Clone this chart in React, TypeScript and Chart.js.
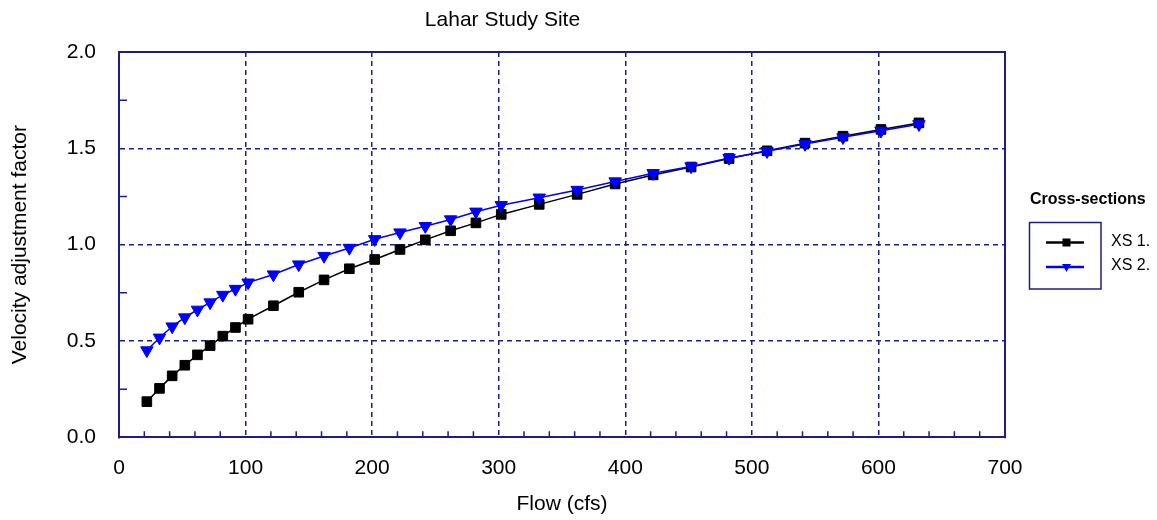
import { useEffect, useRef } from 'react';
import { Chart, registerables } from 'chart.js';

Chart.register(...registerables);

const FONT = "'Liberation Sans', Arial, sans-serif";
const NAVY = '#1c1c8e';

const CHART_TITLE = 'Lahar Study Site';
const X_TITLE = 'Flow (cfs)';
const Y_TITLE = 'Velocity adjustment factor';
const LEGEND_TITLE = 'Cross-sections';
const SERIES_NAMES = ['XS 1.', 'XS 2.'];
const SERIES_COLORS = ['#000000', '#0000ff'];

// Flow values (cfs) shared by both cross-sections
const FLOW = [
  22, 32, 42, 52, 62, 72, 82, 92, 102,
  122, 142, 162, 182, 202, 222, 242, 262, 282, 302,
  332, 362, 392, 422, 452, 482, 512, 542, 572, 602, 632,
];

// Velocity adjustment factor, cross-section 1
const XS1_FACTOR = [
  0.185, 0.254, 0.319, 0.374, 0.428, 0.476, 0.525, 0.570, 0.613,
  0.683, 0.753, 0.817, 0.875, 0.923, 0.975, 1.025, 1.072, 1.113, 1.157,
  1.209, 1.261, 1.315, 1.362, 1.403, 1.447, 1.487, 1.527, 1.563, 1.598, 1.632,
];

// Velocity adjustment factor, cross-section 2
const XS2_FACTOR = [
  0.451, 0.517, 0.575, 0.622, 0.662, 0.700, 0.739, 0.770, 0.803,
  0.845, 0.897, 0.941, 0.983, 1.028, 1.063, 1.096, 1.131, 1.171, 1.205,
  1.244, 1.284, 1.328, 1.371, 1.406, 1.450, 1.485, 1.522, 1.557, 1.591, 1.625,
];

const X_MIN = 0;
const X_MAX = 700;
const X_STEP = 100;
const X_MINOR = 20;
const Y_MIN = 0;
const Y_MAX = 2;
const Y_STEP = 0.5;
const Y_MINOR = 0.25;

// Top/right frame and the small inward minor ticks
const framePlugin = {
  id: 'frame',
  beforeDatasetsDraw(chart: any) {
    const { ctx, chartArea: a, scales } = chart;
    const xs = scales.x;
    const ys = scales.y;
    ctx.save();
    ctx.strokeStyle = NAVY;
    ctx.lineWidth = 1.5;
    ctx.beginPath();
    const xPerMajor = Math.round(X_STEP / X_MINOR);
    const xCount = Math.round((X_MAX - X_MIN) / X_MINOR);
    for (let i = 1; i < xCount; i++) {
      if (i % xPerMajor === 0) continue;
      const px = xs.getPixelForValue(X_MIN + i * X_MINOR);
      ctx.moveTo(px, a.bottom);
      ctx.lineTo(px, a.bottom - 6);
    }
    const yPerMajor = Math.round(Y_STEP / Y_MINOR);
    const yCount = Math.round((Y_MAX - Y_MIN) / Y_MINOR);
    for (let i = 1; i < yCount; i++) {
      if (i % yPerMajor === 0) continue;
      const py = ys.getPixelForValue(Y_MIN + i * Y_MINOR);
      ctx.moveTo(a.left, py);
      ctx.lineTo(a.left + 8, py);
    }
    ctx.stroke();
    ctx.lineWidth = 2;
    ctx.beginPath();
    ctx.moveTo(a.left - 1, a.top);
    ctx.lineTo(a.right, a.top);
    ctx.lineTo(a.right, a.bottom + 1);
    ctx.stroke();
    ctx.restore();
  },
};

// Boxed legend on the right with its heading above
const legendPlugin = {
  id: 'boxLegend',
  afterDraw(chart: any) {
    const { ctx } = chart;
    const datasets = chart.data.datasets;
    ctx.save();
    ctx.fillStyle = '#000';
    ctx.font = `bold 16px ${FONT}`;
    ctx.textAlign = 'left';
    ctx.textBaseline = 'middle';
    ctx.fillText(LEGEND_TITLE, 1030, 200);

    ctx.strokeStyle = NAVY;
    ctx.lineWidth = 1.5;
    ctx.strokeRect(1029.5, 222.5, 71.5, 66.5);

    const rows = [242.5, 267];
    datasets.forEach((ds: any, i: number) => {
      const y = rows[i];
      ctx.strokeStyle = ds.borderColor;
      ctx.fillStyle = ds.borderColor;
      ctx.lineWidth = 2.5;
      ctx.beginPath();
      ctx.moveTo(1046, y);
      ctx.lineTo(1084, y);
      ctx.stroke();
      const cx = 1066.5;
      if (ds.pointStyle === 'rect') {
        ctx.fillRect(cx - 4, y - 4, 8, 8);
      } else {
        ctx.beginPath();
        ctx.moveTo(cx - 4.5, y - 3);
        ctx.lineTo(cx + 4.5, y - 3);
        ctx.lineTo(cx, y + 5);
        ctx.closePath();
        ctx.fill();
      }
      ctx.fillStyle = '#000';
      ctx.font = `16px ${FONT}`;
      ctx.fillText(ds.label, 1111, y - 1);
    });
    ctx.restore();
  },
};

const hideEdge = (lo: number, hi: number) => (c: any) => {
  const v = c.tick ? c.tick.value : null;
  return v === lo || v === hi ? 'rgba(0,0,0,0)' : NAVY;
};

export default function App() {
  const canvasRef = useRef<HTMLCanvasElement | null>(null);

  useEffect(() => {
    const canvas = canvasRef.current;
    if (!canvas) return;
    const toPoints = (ys: number[]) => FLOW.map((x, i) => ({ x, y: ys[i] }));
    const chart = new Chart(canvas, {
      type: 'line',
      data: {
        datasets: [
          {
            label: SERIES_NAMES[0],
            data: toPoints(XS1_FACTOR),
            borderColor: SERIES_COLORS[0],
            backgroundColor: SERIES_COLORS[0],
            borderWidth: 1.5,
            pointStyle: 'rect',
            pointRadius: 6.8,
            pointBorderWidth: 1,
            pointBackgroundColor: SERIES_COLORS[0],
            pointBorderColor: SERIES_COLORS[0],
            tension: 0,
            order: 1,
          },
          {
            label: SERIES_NAMES[1],
            data: toPoints(XS2_FACTOR),
            borderColor: SERIES_COLORS[1],
            backgroundColor: SERIES_COLORS[1],
            borderWidth: 1.5,
            pointStyle: 'triangle',
            pointRotation: 180,
            pointRadius: 7.2,
            pointBorderWidth: 1,
            pointBackgroundColor: SERIES_COLORS[1],
            pointBorderColor: SERIES_COLORS[1],
            tension: 0,
            order: 0,
          },
        ],
      },
      options: {
        animation: false,
        responsive: false,
        devicePixelRatio: 1,
        layout: { padding: { left: 0, right: 152, top: 0, bottom: 0 } },
        plugins: {
          legend: { display: false },
          tooltip: { enabled: false },
          title: {
            display: true,
            text: CHART_TITLE,
            color: '#000',
            font: { family: FONT, size: 21, weight: 'normal' },
            padding: { top: 7.4, bottom: 19.4 },
          },
        },
        scales: {
          x: {
            type: 'linear',
            min: X_MIN,
            max: X_MAX,
            afterFit: (s: any) => {
              s.height = 82.7;
            },
            ticks: {
              stepSize: X_STEP,
              color: '#000',
              font: { family: FONT, size: 21 },
              padding: 18,
              maxRotation: 0,
            },
            grid: { color: hideEdge(X_MIN, X_MAX), lineWidth: 1.5, drawTicks: false },
            border: { display: true, color: NAVY, width: 2, dash: [5, 4] },
            title: {
              display: true,
              text: X_TITLE,
              color: '#000',
              font: { family: FONT, size: 21 },
              padding: { top: 0, bottom: 2.9 },
            },
          },
          y: {
            type: 'linear',
            min: Y_MIN,
            max: Y_MAX,
            afterFit: (s: any) => {
              s.width = 119;
            },
            ticks: {
              stepSize: Y_STEP,
              color: '#000',
              font: { family: FONT, size: 21 },
              padding: 23,
              callback: (v: any) => Number(v).toFixed(1),
            },
            grid: { color: hideEdge(Y_MIN, Y_MAX), lineWidth: 1.5, drawTicks: false },
            border: { display: true, color: NAVY, width: 2, dash: [5, 4] },
            title: {
              display: true,
              text: Y_TITLE,
              color: '#000',
              font: { family: FONT, size: 21 },
              padding: { top: 7.4, bottom: 0 },
            },
          },
        },
      },
      plugins: [framePlugin, legendPlugin],
    } as any);
    return () => chart.destroy();
  }, []);

  return (
    <div style={{ position: 'absolute', left: 0, top: 0, width: 1157, height: 520, background: '#fff' }}>
      <canvas ref={canvasRef} width={1157} height={520} style={{ display: 'block' }} />
    </div>
  );
}
